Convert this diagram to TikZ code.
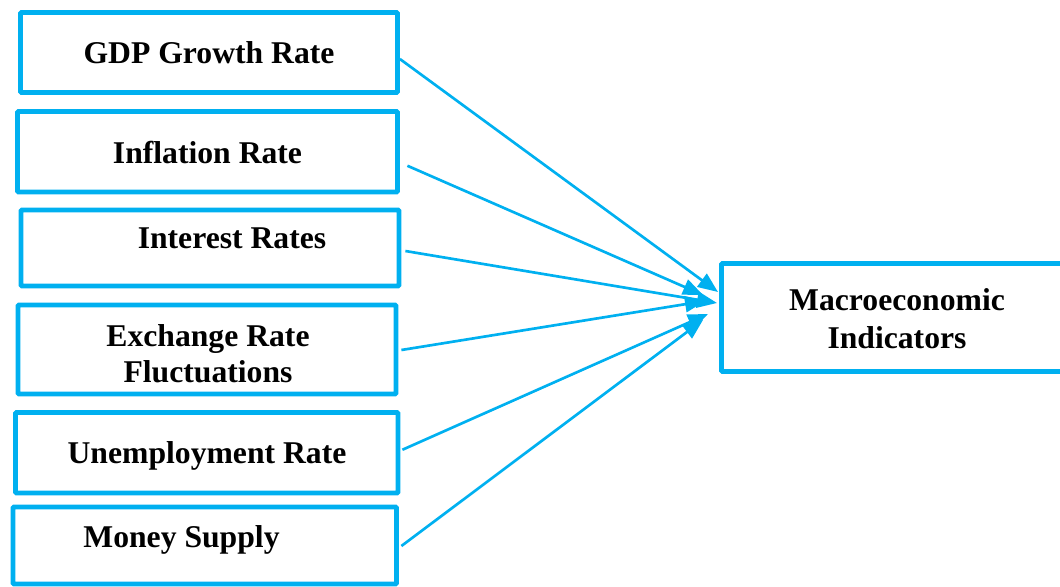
\documentclass[tikz,border=0pt]{standalone}
\usepackage{fontspec}
\setmainfont{Liberation Serif}
\usetikzlibrary{arrows.meta}
\definecolor{linkblue}{HTML}{00B0F0}
\tikzset{
  factor/.style={draw=linkblue, line width=3.6pt, rounded corners=0.8pt,
    rectangle, inner sep=0pt},
  label/.style={font=\bfseries\fontsize{23.75}{27}\selectfont, anchor=base,
    inner sep=0pt, align=center},
  link/.style={draw=linkblue, line width=2pt,
    -{Triangle[length=15pt, width=12pt]}}
}
\begin{document}
\begin{tikzpicture}[x=0.75pt, y=-0.75pt]
  \useasboundingbox (0,0) rectangle (1060,586);
  % input factor boxes
  \node[factor, minimum width=377pt*0.75, minimum height=80pt*0.75] (gdp) at (209,52.5) {};
  \node[factor, minimum width=380pt*0.75, minimum height=80.5pt*0.75] (infl) at (207.5,151.75) {};
  \node[factor, minimum width=378pt*0.75, minimum height=76pt*0.75] (intr) at (210,248) {};
  \node[factor, minimum width=378pt*0.75, minimum height=89pt*0.75] (exch) at (207,349.5) {};
  \node[factor, minimum width=382.5pt*0.75, minimum height=80.5pt*0.75] (unemp) at (206.75,452.75) {};
  \node[factor, minimum width=383.5pt*0.75, minimum height=77pt*0.75] (money) at (204.75,545.5) {};
  % outcome box, running off the right edge
  \node[factor, minimum width=350pt*0.75, minimum height=108pt*0.75] (macro) at (896.5,317.5) {};
  % box labels
  \node[label] (tgdp) at (209,63) {GDP Growth Rate};
  \node[label] (tinfl) at (207.5,163) {Inflation Rate};
  \node[label] (tintr) at (232,248) {Interest Rates};
  \node[label] (texch1) at (208,346) {Exchange Rate};
  \node[label] (texch2) at (208,382) {Fluctuations};
  \node[label] (tunemp) at (207,463) {Unemployment Rate};
  \node[label] (tmoney) at (181.5,547) {Money Supply};
  \node[label] (tmacro1) at (897,310) {Macroeconomic};
  \node[label] (tmacro2) at (897,348) {Indicators};
  % arrow tips at the outcome box
  \coordinate (pgdp) at (718,292);
  \coordinate (pinfl) at (703,295);
  \coordinate (pintr) at (717,303);
  \coordinate (pexch) at (705,301);
  \coordinate (punemp) at (708,314);
  \coordinate (pmoney) at (703,320);
  % connectors
  \draw[link] ([shift={(0,6.5)}]gdp.east) -- (pgdp);
  \draw[link] ([shift={(7.5,14)}]infl.east) -- (pinfl);
  \draw[link] ([shift={(4,3)}]intr.east) -- (pintr);
  \draw[link] ([shift={(3,0.5)}]exch.east) -- (pexch);
  \draw[link] ([shift={(2,-3)}]unemp.east) -- (punemp);
  \draw[link] ([shift={(2.5,0.5)}]money.east) -- (pmoney);
\end{tikzpicture}
\end{document}
